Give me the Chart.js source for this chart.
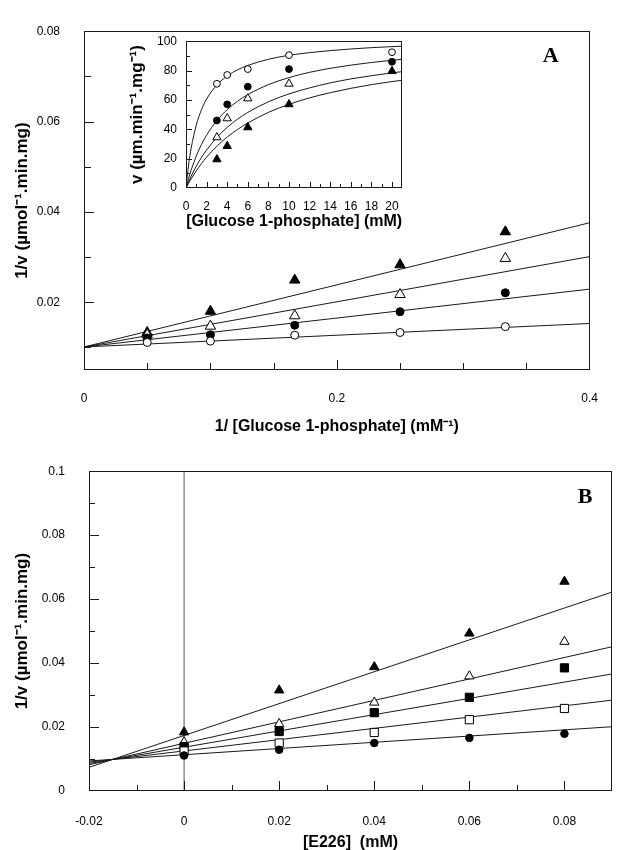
<!DOCTYPE html>
<html>
<head>
<meta charset="utf-8">
<script src="https://cdn.jsdelivr.net/npm/chart.js@4.4.1/dist/chart.umd.min.js"></script>
<style>
  html, body { margin: 0; padding: 0; background: #fff; overflow: hidden; }
  #wrap { position: relative; width: 619px; height: 850px; }
  canvas { position: absolute; }
</style>
</head>
<body>
<div id="wrap">
  <canvas id="chartA" width="619" height="440" style="left:0;top:0"></canvas>
  <canvas id="chartInset" width="290" height="215" style="left:120px;top:25px"></canvas>
  <canvas id="chartB" width="619" height="410" style="left:0;top:440px"></canvas>
</div>
<script>
// ---- Panel A: 1/v vs 1/[Glucose 1-phosphate] ----
const recipGlc = [0.05, 0.1, 0.1667, 0.25, 0.3333];
const aOpenCircle = [0.0111, 0.0114, 0.0127, 0.0133, 0.0146];
const aFilledCircle = [0.0121, 0.0128, 0.0149, 0.0179, 0.0221];
const aOpenTri = [0.0128, 0.0147, 0.0170, 0.0217, 0.0297];
const aFilledTri = [0.0133, 0.0180, 0.0249, 0.0283, 0.0356];
// fitted lines, read at x = 0 and x = 0.4
const aFitX = [0, 0.4];
const aFitOpenCircle = [0.0101, 0.0153];
const aFitFilledCircle = [0.0101, 0.0229];
const aFitOpenTri = [0.0101, 0.0301];
const aFitFilledTri = [0.0101, 0.0376];
const aXTicks = [0.05, 0.1, 0.15, 0.2, 0.25, 0.3, 0.35];
const aXLabels = [0, 0.2, 0.4];
const aYTicks = [0.01, 0.02, 0.03, 0.04, 0.05, 0.06, 0.07];
const aYLabels = [0.02, 0.04, 0.06, 0.08];

// ---- Inset: v vs [Glucose 1-phosphate] ----
const glc = [3, 4, 6, 10, 20];
const inOpenCircle = [71, 77, 81, 90.5, 92.5];
const inFilledCircle = [46, 57, 69, 81, 86];
const inOpenTri = [34.5, 47.4, 61, 71, null];
const inFilledTri = [19.5, 28.6, 41.3, 57, 79.6];
// curves
const curveX = [0, 0.25, 0.5, 1, 1.5, 2, 3, 4, 5, 6, 8, 10, 12, 14, 16, 18, 20, 21];
const curveOpenCircle = [0, 15.6, 27.1, 42.9, 53.3, 60.6, 70.2, 76.3, 80.5, 83.5, 87.7, 90.4, 92.2, 93.6, 94.7, 95.6, 96.3, 96.6];
const curveFilledCircle = [0, 6.5, 12.2, 21.8, 29.6, 36.0, 46.0, 53.4, 59.1, 63.6, 70.4, 75.2, 78.8, 81.5, 83.7, 85.5, 87.0, 87.7];
const curveOpenTri = [0, 4.2, 8.0, 14.9, 20.8, 25.9, 34.5, 41.3, 46.9, 51.5, 58.7, 64.1, 68.2, 71.6, 74.3, 76.5, 78.4, 79.3];
const curveFilledTri = [0, 3.2, 6.2, 11.7, 16.6, 21.0, 28.5, 34.7, 39.9, 44.3, 51.5, 57.0, 61.4, 64.9, 67.9, 70.4, 72.5, 73.4];
const inXTicks = [1, 2, 3, 4, 5, 6, 7, 8, 9, 10, 11, 12, 13, 14, 15, 16, 17, 18, 19, 20];
const inXLabels = [0, 2, 4, 6, 8, 10, 12, 14, 16, 18, 20];
const inYTicks = [10, 20, 30, 40, 50, 60, 70, 80, 90];
const inYLabels = [0, 20, 40, 60, 80, 100];

// ---- Panel B: 1/v vs [E226] ----
const e226 = [0, 0.02, 0.04, 0.06, 0.08];
const bFilledCircle = [0.0111, 0.0129, 0.0150, 0.0166, 0.0179];
const bOpenSquare = [0.0125, 0.0150, 0.0183, 0.0223, 0.0258];
const bFilledSquare = [0.0139, 0.0186, 0.0245, 0.0293, 0.0385];
const bOpenTri = [0.0153, 0.0210, 0.0277, 0.0359, 0.0467];
const bFilledTri = [0.0184, 0.0315, 0.0388, 0.0493, 0.0655];
// fitted lines, read at x = -0.02 and x = 0.09
const bFitX = [-0.02, 0.09];
const bFitFilledCircle = [0.0094, 0.0201];
const bFitOpenSquare = [0.0090, 0.0284];
const bFitFilledSquare = [0.0086, 0.0366];
const bFitOpenTri = [0.0082, 0.0451];
const bFitFilledTri = [0.0074, 0.0622];
const zeroLineX = [0, 0];
const zeroLineY = [0, 0.1];
const bXTicks = [-0.01, 0, 0.01, 0.02, 0.03, 0.04, 0.05, 0.06, 0.07, 0.08];
const bXLabels = [-0.02, 0, 0.02, 0.04, 0.06, 0.08];
const bYTicks = [0.01, 0.02, 0.03, 0.04, 0.05, 0.06, 0.07, 0.08, 0.09];
const bYLabels = [0, 0.02, 0.04, 0.06, 0.08, 0.1];

const FONT = '"Liberation Sans", Arial, Helvetica, sans-serif';
const INK = '#1a1a1a';

// frame, inward tick marks and panel letter
const frameTicks = {
  id: 'frameTicks',
  afterDatasetsDraw(chart, args, opts) {
    const { ctx, chartArea: a } = chart;
    const xs = chart.scales.x, ys = chart.scales.y;
    ctx.save();
    ctx.strokeStyle = INK;
    ctx.lineWidth = 1;
    ctx.strokeRect(Math.round(a.left) + 0.5, Math.round(a.top) + 0.5, Math.round(a.width) - 1, Math.round(a.height) - 1);
    ctx.beginPath();
    opts.xTicks.forEach(v => {
      const px = Math.round(xs.getPixelForValue(v)) + 0.5;
      const len = opts.xLabels.includes(v) ? opts.major : opts.minor;
      ctx.moveTo(px, a.bottom);
      ctx.lineTo(px, a.bottom - len);
    });
    opts.yTicks.forEach(v => {
      const py = Math.round(ys.getPixelForValue(v)) + 0.5;
      const len = opts.yLabels.includes(v) ? opts.major : opts.minor;
      ctx.moveTo(a.left, py);
      ctx.lineTo(a.left + len, py);
    });
    ctx.stroke();
    if (opts.letter) {
      ctx.font = 'bold 22px "Liberation Serif", "Times New Roman", serif';
      ctx.fillStyle = '#000';
      ctx.textAlign = 'center';
      ctx.textBaseline = 'middle';
      ctx.fillText(opts.letter, a.right - opts.letterDx, a.top + opts.letterDy);
    }
    ctx.restore();
  }
};

function linearScale(o) {
  return {
    type: 'linear',
    min: o.min,
    max: o.max,
    grid: { display: false, drawTicks: false },
    border: { display: false },
    afterBuildTicks: s => { s.ticks = o.labels.map(v => ({ value: v })); },
    afterFit: s => { if (o.isX) s.height = o.size; else s.width = o.size; },
    ticks: {
      autoSkip: false, maxRotation: 0, padding: o.pad, color: '#000',
      font: { family: FONT, size: 12 },
      callback: v => String(v)
    },
    title: {
      display: true, text: o.title, color: '#000',
      font: { family: FONT, size: o.titleSize, weight: 'bold' },
      padding: o.isX ? { top: 0, bottom: o.titlePad } : { top: o.titlePad, bottom: 0 }
    }
  };
}

const pts = (xs, ys) => xs.map((x, i) => ({ x, y: ys[i] })).filter(p => p.y != null);

function markers(xs, ys, style, filled, r) {
  return {
    data: pts(xs, ys), showLine: false, order: 0,
    pointStyle: style, pointRadius: r, pointBorderWidth: 1,
    pointBackgroundColor: filled ? '#000' : '#fff', pointBorderColor: '#000'
  };
}

function fitLine(xs, ys, color) {
  return {
    data: pts(xs, ys), showLine: true, order: 1, pointRadius: 0,
    borderColor: color || INK, borderWidth: 1, fill: false,
    cubicInterpolationMode: 'monotone'
  };
}

function baseOptions(scales, padding, frame) {
  return {
    responsive: false, animation: false,
    layout: { padding },
    plugins: { legend: { display: false }, tooltip: { enabled: false }, frameTicks: frame },
    scales
  };
}

new Chart(document.getElementById('chartA'), {
  type: 'scatter',
  data: {
    datasets: [
      markers(recipGlc, aOpenCircle, 'circle', false, 4),
      markers(recipGlc, aFilledCircle, 'circle', true, 4),
      markers(recipGlc, aOpenTri, 'triangle', false, 6),
      markers(recipGlc, aFilledTri, 'triangle', true, 6),
      fitLine(aFitX, aFitOpenCircle),
      fitLine(aFitX, aFitFilledCircle),
      fitLine(aFitX, aFitOpenTri),
      fitLine(aFitX, aFitFilledTri)
    ]
  },
  options: baseOptions({
    x: linearScale({ isX: true, min: 0, max: 0.4, labels: aXLabels, size: 70, pad: 21,
      title: '1/ [Glucose 1-phosphate] (mM\u207B\u00B9)', titleSize: 16, titlePad: 4 }),
    y: linearScale({ min: 0.005, max: 0.08, labels: aYLabels, size: 84, pad: 24,
      title: '1/v (\u00B5mol\u207B\u00B9.min.mg)', titleSize: 17, titlePad: 12 })
  }, { left: 0, top: 16, right: 7, bottom: 0 }, {
    xTicks: aXTicks, xLabels: aXLabels, yTicks: aYTicks, yLabels: aYLabels,
    major: 10, minor: 7, letter: 'A', letterDx: 39, letterDy: 25
  }),
  plugins: [frameTicks]
});

new Chart(document.getElementById('chartInset'), {
  type: 'scatter',
  data: {
    datasets: [
      markers(glc, inOpenCircle, 'circle', false, 3.4),
      markers(glc, inFilledCircle, 'circle', true, 3.4),
      markers(glc, inOpenTri, 'triangle', false, 4.8),
      markers(glc, inFilledTri, 'triangle', true, 4.8),
      fitLine(curveX, curveOpenCircle),
      fitLine(curveX, curveFilledCircle),
      fitLine(curveX, curveOpenTri),
      fitLine(curveX, curveFilledTri)
    ]
  },
  options: baseOptions({
    x: linearScale({ isX: true, min: 0, max: 21, labels: inXLabels, size: 52, pad: 11,
      title: '[Glucose 1-phosphate] (mM)', titleSize: 16, titlePad: 9 }),
    y: linearScale({ min: 0, max: 100, labels: inYLabels, size: 66, pad: 9,
      title: 'v (\u00B5m.min\u207B\u00B9.mg\u207B\u00B9)', titleSize: 17, titlePad: 7 })
  }, { left: 0, top: 16, right: 7, bottom: 0 }, {
    xTicks: inXTicks, xLabels: inXLabels, yTicks: inYTicks, yLabels: inYLabels,
    major: 6, minor: 4
  }),
  plugins: [frameTicks]
});

new Chart(document.getElementById('chartB'), {
  type: 'scatter',
  data: {
    datasets: [
      markers(e226, bFilledCircle, 'circle', true, 3.8),
      markers(e226, bOpenSquare, 'rect', false, 5.8),
      markers(e226, bFilledSquare, 'rect', true, 5.8),
      markers(e226, bOpenTri, 'triangle', false, 5.4),
      markers(e226, bFilledTri, 'triangle', true, 5.4),
      fitLine(bFitX, bFitFilledCircle),
      fitLine(bFitX, bFitOpenSquare),
      fitLine(bFitX, bFitFilledSquare),
      fitLine(bFitX, bFitOpenTri),
      fitLine(bFitX, bFitFilledTri),
      fitLine(zeroLineX, zeroLineY, '#555')
    ]
  },
  options: baseOptions({
    x: linearScale({ isX: true, min: -0.02, max: 0.09, labels: bXLabels, size: 59, pad: 23,
      title: '[E226]  (mM)', titleSize: 16, titlePad: -2 }),
    y: linearScale({ min: 0, max: 0.1, labels: bYLabels, size: 89, pad: 24,
      title: '1/v (\u00B5mol\u207B\u00B9.min.mg)', titleSize: 17, titlePad: 12 })
  }, { left: 0, top: 25, right: 7, bottom: 0 }, {
    xTicks: bXTicks, xLabels: bXLabels, yTicks: bYTicks, yLabels: bYLabels,
    major: 10, minor: 6, letter: 'B', letterDx: 27, letterDy: 26
  }),
  plugins: [frameTicks]
});
</script>
</body>
</html>
